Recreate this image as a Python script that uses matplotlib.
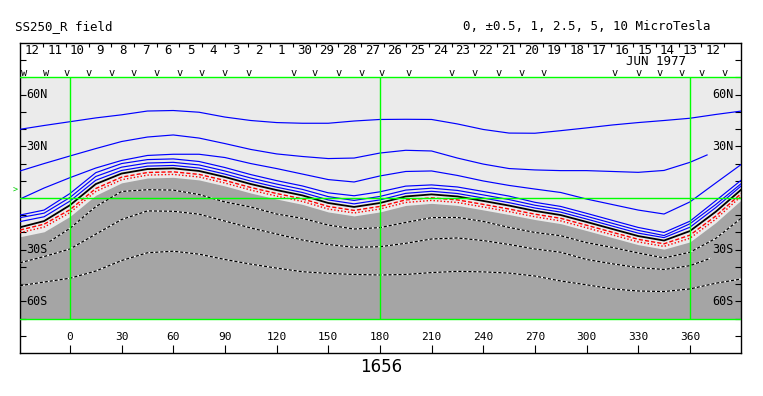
import matplotlib
matplotlib.use('Agg')
import matplotlib.pyplot as plt

# Carrington longitudes at which the contours were read
lon = [-29, -15, 0, 15, 30, 45, 60, 75, 90, 105, 120, 135, 150, 165, 180,
       195, 210, 225, 240, 255, 270, 285, 300, 315, 330, 345, 360, 375, 390]

# positive polarity contours (blue), from the pole down to the neutral line
b1 = [39.9, 42.1, 44.3, 46.5, 48.3, 50.5, 50.8, 49.8, 47.0, 45.0, 43.8, 43.4, 43.4, 44.7, 45.6,
      45.7, 45.6, 43.0, 39.8, 37.7, 37.6, 39.1, 40.7, 42.4, 43.8, 45.0, 46.3, 48.5, 50.5]
b2_lon = [-29, -15, 0, 15, 30, 45, 60, 75, 90, 105, 120, 135, 150, 165, 180,
          195, 210, 225, 240, 255, 270, 285, 300, 315, 330, 345, 360, 370]
b2 = [15.7, 20.0, 24.4, 28.7, 32.8, 35.4, 36.6, 34.8, 31.6, 28.2, 25.6, 24.1, 22.9, 23.2, 26.1,
      27.7, 27.3, 23.2, 19.7, 17.1, 16.3, 15.9, 15.9, 15.4, 14.9, 16.0, 20.7, 25.0]
b3 = [-0.6, 5.8, 11.8, 17.4, 21.8, 24.7, 25.4, 25.4, 23.5, 20.0, 17.1, 13.9, 10.7, 9.3, 12.8,
      15.4, 15.7, 13.1, 9.9, 7.3, 5.2, 3.2, -0.6, -3.8, -7.0, -9.3, -2.3, 8.7, 19.6]
b4 = [-9.9, -7.0, 2.6, 14.7, 20.0, 22.3, 22.7, 21.2, 17.7, 13.6, 10.1, 7.0, 3.0, 1.3, 3.6,
      6.9, 7.6, 6.4, 3.8, 1.1, -2.5, -4.9, -8.9, -13.0, -17.1, -20.0, -13.5, -1.6, 10.5]
b5 = [-11.4, -8.8, 0.3, 12.5, 17.9, 20.3, 20.7, 19.2, 15.7, 11.6, 8.1, 5.0, 0.8, -1.4, 0.9,
      4.6, 5.7, 4.4, 1.8, -0.9, -4.2, -6.6, -10.6, -14.7, -18.8, -21.8, -15.0, -3.8, 8.5]
b6 = [-13.7, -10.9, -1.8, 10.3, 16.0, 18.5, 18.9, 17.4, 13.9, 9.8, 6.3, 3.2, -1.1, -3.4, -1.1,
      2.7, 3.9, 2.6, 0.0, -2.7, -5.8, -8.2, -12.2, -16.3, -20.4, -23.0, -17.0, -5.6, 7.2]

# neutral line (0 microtesla)
neutral = [-17.0, -13.4, -4.2, 8.1, 14.2, 16.8, 17.2, 15.7, 12.2, 8.1, 4.6, 1.5, -2.9, -5.2, -2.9,
           0.9, 2.1, 0.9, -1.7, -4.4, -7.5, -9.9, -13.9, -18.0, -22.1, -24.7, -19.2, -8.0, 5.0]

# negative side: red contours and edge of the shaded region
r1 = [-18.6, -15.2, -6.8, 5.5, 12.1, 14.8, 15.2, 13.7, 10.2, 6.1, 2.6, -0.5, -4.9, -7.2, -4.9,
      -1.1, 0.1, -1.1, -3.7, -6.4, -9.4, -11.8, -15.8, -19.9, -24.0, -26.6, -21.6, -10.5, 2.8]
r2 = [-20.1, -16.9, -8.5, 3.8, 10.6, 13.3, 13.7, 12.2, 8.7, 4.6, 1.1, -2.0, -6.4, -8.7, -6.4,
      -2.6, -1.4, -2.6, -5.2, -7.9, -10.9, -13.3, -17.3, -21.4, -25.5, -28.1, -23.4, -12.3, 1.2]
neg_edge = [-22.5, -19.6, -10.7, 1.6, 8.8, 11.6, 12.0, 10.5, 7.0, 2.9, -0.6, -3.7, -8.1, -10.4, -8.1,
            -4.3, -3.1, -4.3, -6.9, -9.6, -12.5, -14.9, -18.9, -23.0, -27.1, -29.7, -25.5, -14.3, -1.0]

# negative contours inside the shaded region (dashed)
d1_lon = [-12, 0, 15, 30, 45, 60, 75, 90, 105, 120, 135, 150, 165, 180,
          195, 210, 225, 240, 255, 270, 285, 300, 315, 330, 345, 360, 375, 390]
d1 = [-25.4, -17.6, -5.0, 3.8, 4.8, 4.6, 2.0, -2.3, -5.2, -9.3, -11.8, -15.7, -18.0, -17.2,
      -14.2, -11.4, -11.3, -13.6, -17.1, -20.0, -21.9, -25.9, -28.7, -31.9, -34.8, -31.5, -23.5, -11.6]
d2_lon = [-29, -15, 0, 15, 30, 45, 60, 75, 90, 105, 120, 135, 150, 165, 180,
          195, 210, 225, 240, 255, 270, 285, 300, 315, 330, 345, 360, 372]
d2 = [-37.6, -34.0, -29.6, -21.0, -12.5, -7.5, -7.7, -9.4, -13.4, -17.4, -20.9, -24.4, -27.0, -28.6, -28.3,
      -26.3, -23.8, -23.2, -24.7, -27.0, -29.6, -31.5, -35.7, -38.2, -40.4, -41.5, -39.3, -35.0]
d3 = [-50.9, -48.8, -46.6, -42.4, -36.3, -31.8, -30.9, -32.6, -35.7, -38.4, -40.7, -42.8, -43.8, -44.4, -44.7,
      -44.4, -43.3, -42.6, -42.9, -43.6, -45.3, -48.2, -50.4, -52.8, -54.0, -54.3, -52.8, -49.5, -47.0]

# day labels along the top (June/July 1977, time runs right to left)
days = ['12', '11', '10', '9', '8', '7', '6', '5', '4', '3', '2', '1', '30', '29', '28', '27',
        '26', '25', '24', '23', '22', '21', '20', '19', '18', '17', '16', '15', '14', '13', '12']
first_day_edge = -15.5
day_step = 13.18

# observation marks ('w' = two observations on top of each other)
obs_lon = [-26.7, -13.9, -1.9, 10.6, 24.2, 36.8, 50.3, 63.9, 76.5, 90.0, 103.5,
           129.7, 142.3, 155.8, 169.4, 181.0, 196.5, 221.7, 235.2, 248.7, 262.3, 274.9,
           316.5, 330.0, 342.6, 355.2, 366.8, 380.4]
obs_mark = ['w', 'w'] + ['v'] * 26

xticks = [0, 30, 60, 90, 120, 150, 180, 210, 240, 270, 300, 330, 360]
lat_labels = [60, 30, -30, -60]

mono = 'DejaVu Sans Mono'

fig = plt.figure(figsize=(7.63, 3.96), dpi=100)
ax = fig.add_axes([20 / 763, 43 / 396, 721 / 763, 310 / 396])
ax.set_xlim(-29.0, 389.7)
ax.set_ylim(-90, 90)

# background shading
ax.axhspan(-70, 70, color='#ebebeb', zorder=0, lw=0)
ax.fill_between(lon, -70, neg_edge, color='#a5a5a5', lw=0, zorder=1)

# blue contours
for xs, ys in [(lon, b1), (b2_lon, b2), (lon, b3), (lon, b4), (lon, b5), (lon, b6)]:
    ax.plot(xs, ys, color='#0000ff', lw=0.85, zorder=3)

ax.plot(lon, neutral, color='black', lw=1.3, zorder=4)
ax.plot(lon, r1, color='red', lw=1.0, dashes=(3, 1.5), zorder=4)
ax.plot(lon, r2, color='red', lw=1.0, dashes=(1, 1.5), zorder=4)

for xs, ys in [(d1_lon, d1), (d2_lon, d2), (lon, d3)]:
    ax.plot(xs, ys, color='white', lw=0.9, zorder=3)
    ax.plot(xs, ys, color='black', lw=0.9, dashes=(2.5, 1.5), zorder=3)

# green reference lines
for yv in [70, 0, -70]:
    ax.axhline(yv, color='#00ff00', lw=1.0, zorder=6)
ax.vlines([0, 180, 360], -70, 70, color='#00ff00', lw=1.0, zorder=6)

# ticks
ax.set_xticks(xticks)
ax.set_xticklabels([])
ax.set_yticks(range(-80, 81, 10))
ax.set_yticklabels([])
ax.tick_params(axis='x', direction='in', length=6, width=0.8, bottom=True, top=False)
ax.tick_params(axis='y', direction='in', length=4.5, width=0.8, left=True, right=True)
for s in ax.spines.values():
    s.set_linewidth(1.0)

for xv in xticks:
    ax.text(xv, -80.6, str(xv), ha='center', va='center', fontsize=8, family=mono)

for la in lat_labels:
    lab = f"{abs(la)}{'N' if la > 0 else 'S'}"
    ax.text(-25.3, la, lab, ha='left', va='center', fontsize=8.5, family=mono, zorder=7)
    ax.text(385.2, la, lab, ha='right', va='center', fontsize=8.5, family=mono, zorder=7)

# day scale at the top
day_edges = [first_day_edge + i * day_step for i in range(len(days))]
ax.vlines(day_edges, 87.4, 90, color='black', lw=0.8)
for i, d in enumerate(days):
    ax.text(day_edges[i] - day_step / 2, 85.9, d, ha='center', va='center',
            fontsize=9, family=mono)
ax.text(340.3, 79.0, 'JUN 1977', ha='center', va='center', fontsize=9, family=mono)

for xo, m in zip(obs_lon, obs_mark):
    ax.text(xo, 71.0, m, ha='center', va='baseline', fontsize=7.5, family=mono, clip_on=True)

# titles and rotation number
ax.text(-31.9, 99.3, 'SS250_R field', ha='left', va='center', fontsize=9, family=mono, clip_on=False)
ax.text(372.2, 99.3, '0, \u00b10.5, 1, 2.5, 5, 10 MicroTesla', ha='right', va='center',
        fontsize=9, family=mono, clip_on=False)
ax.text(180.5, -98.2, '1656', ha='center', va='center', fontsize=12, clip_on=False)
ax.text(-31.8, 4.6, '>', ha='center', va='center', fontsize=6, color='#00cc00',
        family=mono, clip_on=False)

fig.savefig('out.png', dpi=100)
